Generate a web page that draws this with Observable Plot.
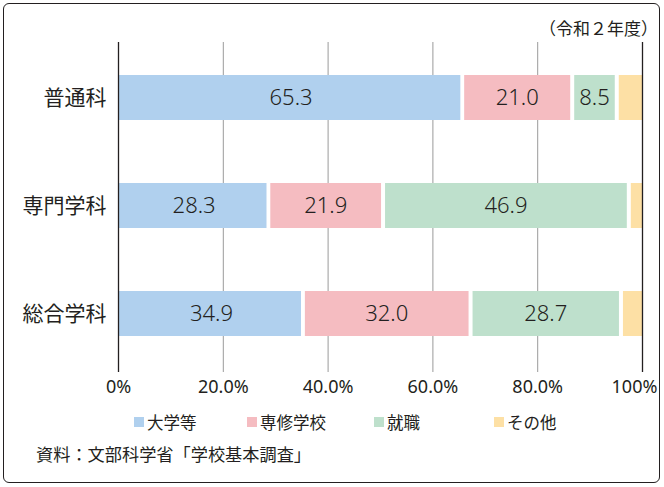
<!DOCTYPE html>
<html><head><meta charset="utf-8">
<script src="https://cdn.jsdelivr.net/npm/d3@7"></script>
<script src="https://cdn.jsdelivr.net/npm/@observablehq/plot@0.6"></script>
<style>
body{margin:0;background:#fff;font-family:"Noto Sans","Noto Sans CJK JP",sans-serif;color:#231f20;}
#wrap{position:relative;width:664px;height:487px;overflow:hidden;}
#frame{position:absolute;left:3px;top:3px;width:655px;height:478px;border:1.6px solid #231f20;border-radius:6px;box-sizing:content-box;pointer-events:none;}
#chart{position:absolute;left:0;top:0;}
#note{position:absolute;right:6px;top:15px;font-size:17px;font-family:"Noto Sans CJK JP",sans-serif;}
#legend{position:absolute;top:412px;left:0;width:664px;height:20px;font-family:"Noto Sans CJK JP",sans-serif;font-size:16.5px;}
.li{position:absolute;top:0;display:flex;align-items:center;height:20px;}
.sw{width:10px;height:10px;margin-right:3px;}
#source{position:absolute;left:36px;top:441px;font-size:17.2px;font-family:"Noto Sans CJK JP",sans-serif;}
</style></head>
<body><div id="wrap"><div id="chart"></div><div id="note">（令和２年度）</div><div id="legend"></div><div id="source">資料：文部科学省「学校基本調査」</div><div id="frame"></div></div>
<script>
const categories = ["普通科", "専門学科", "総合学科"];
const types = ["大学等", "専修学校", "就職", "その他"];
const daigaku = [65.3, 28.3, 34.9];
const senshu = [21.0, 21.9, 32.0];
const shushoku = [8.5, 46.9, 28.7];
const sonota = [5.2, 2.9, 4.4];
const colors = ["#b0d0ee", "#f5bcc1", "#bee0cc", "#fde0a5"];
const tickValues = [0, 20, 40, 60, 80, 100];
const tickLabels = ["0%", "20.0%", "40.0%", "60.0%", "80.0%", "100%"];

const series = [daigaku, senshu, shushoku, sonota];
const data = [];
categories.forEach((c, i) => types.forEach((t, j) => data.push({cat: c, type: t, value: series[j][i]})));
const fmt = d => tickLabels[tickValues.indexOf(d)];

const plot = Plot.plot({
  width: 664, height: 487,
  marginLeft: 118, marginRight: 22, marginTop: 42, marginBottom: 115,
  style: {fontFamily: '"Noto Sans","Noto Sans CJK JP",sans-serif', color: "#231f20", background: "transparent"},
  x: {domain: [0, 100]},
  y: {domain: categories, range: [42, 369], paddingInner: 0.587, paddingOuter: 0.294},
  color: {domain: types, range: colors},
  marks: [
    Plot.ruleX(tickValues.filter(d => d > 0 && d < 100), {stroke: "#9a9a9a", strokeWidth: 1}),
    Plot.barX(data, Plot.stackX({x: "value", y: "cat", fill: "type", insetLeft: 4})),
    Plot.barX(data.filter(d => d.type === types[0]), {x: "value", y: "cat", fill: "type"}),
    Plot.ruleX([0, 100], {stroke: "#231f20", strokeWidth: 1.3}),
    Plot.text(data, Plot.stackX({x: "value", y: "cat", z: "type", filter: d => d.type !== "その他", text: d => d.value.toFixed(1), fontSize: 22, fontWeight: 300, fill: "#231f20", dx: 1.5})),
    Plot.axisX({ticks: tickValues.slice(0, -1), tickFormat: fmt, tickSize: 0, tickPadding: 8, fontSize: 18, label: null}),
    Plot.axisX({ticks: tickValues.slice(-1), tickFormat: fmt, tickSize: 0, tickPadding: 8, fontSize: 18, label: null, dx: -8}),
    Plot.axisY({tickSize: 0, tickPadding: 12, fontSize: 21, fontFamily: '"Noto Sans CJK JP",sans-serif', label: null})
  ]
});
document.getElementById("chart").appendChild(plot);

const legendX = [134, 247, 374, 494];
const legend = document.getElementById("legend");
types.forEach((t, i) => {
  const el = document.createElement("div");
  el.className = "li";
  el.style.left = legendX[i] + "px";
  el.innerHTML = `<div class="sw" style="background:${colors[i]}"></div><span>${t}</span>`;
  legend.appendChild(el);
});
</script></body></html>
